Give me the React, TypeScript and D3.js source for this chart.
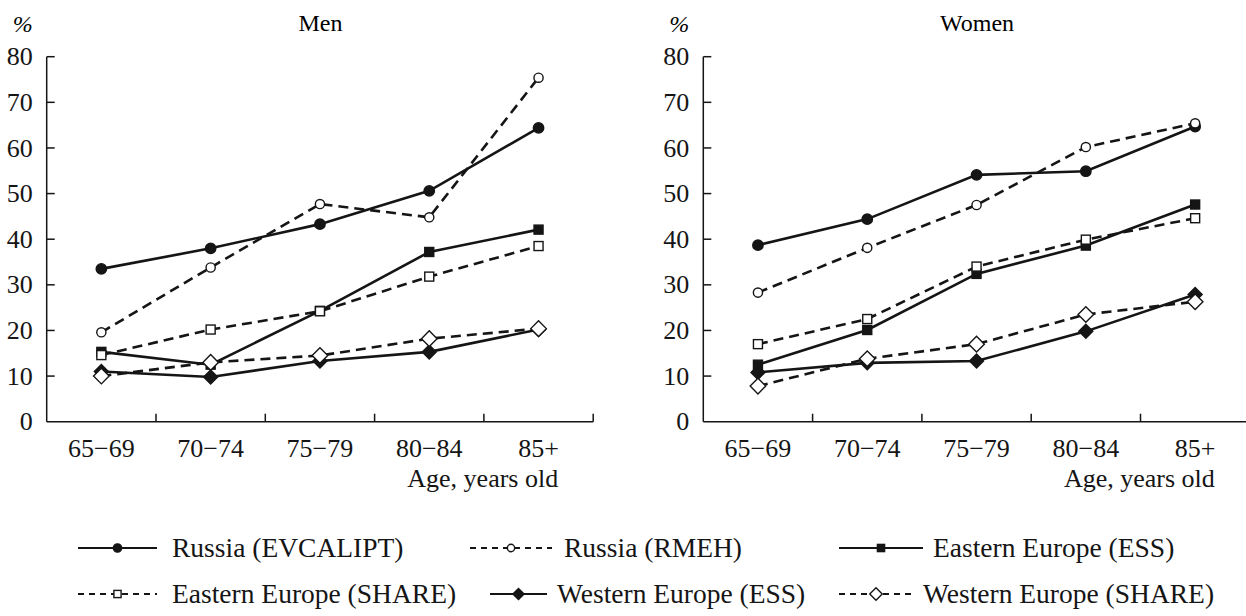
import * as d3 from 'd3'

// age groups and y ticks
const categories = ['65−69', '70−74', '75−79', '80−84', '85+']
const yTicks = [0, 10, 20, 30, 40, 50, 60, 70, 80]

// Men, %
const menRussiaEvcalipt = [33.5, 38.0, 43.3, 50.6, 64.4]
const menRussiaRmeh = [19.6, 33.8, 47.7, 44.8, 75.4]
const menEastEss = [15.3, 12.5, 24.3, 37.2, 42.1]
const menEastShare = [14.6, 20.2, 24.2, 31.8, 38.5]
const menWestEss = [11.0, 9.8, 13.3, 15.3, 20.2]
const menWestShare = [10.0, 13.0, 14.5, 18.2, 20.4]

// Women, %
const womenRussiaEvcalipt = [38.7, 44.4, 54.1, 54.9, 64.7]
const womenRussiaRmeh = [28.3, 38.1, 47.5, 60.2, 65.4]
const womenEastEss = [12.5, 20.1, 32.4, 38.6, 47.6]
const womenEastShare = [17.0, 22.5, 34.0, 39.9, 44.6]
const womenWestEss = [10.8, 12.9, 13.3, 19.8, 27.9]
const womenWestShare = [7.8, 13.8, 17.0, 23.5, 26.3]

const seriesNames = [
  'Russia (EVCALIPT)',
  'Russia (RMEH)',
  'Eastern Europe (ESS)',
  'Eastern Europe (SHARE)',
  'Western Europe (ESS)',
  'Western Europe (SHARE)',
]
const seriesMarkers = ['circle', 'circle', 'square', 'square', 'diamond', 'diamond']
const seriesFilled = [true, false, true, false, true, false]
const seriesDashed = [false, true, false, true, false, true]

const panels = [
  {
    title: 'Men',
    left: 46.7,
    values: [menRussiaEvcalipt, menRussiaRmeh, menEastEss, menEastShare, menWestEss, menWestShare],
  },
  {
    title: 'Women',
    left: 703.3,
    values: [womenRussiaEvcalipt, womenRussiaRmeh, womenEastEss, womenEastShare, womenWestEss, womenWestShare],
  },
]

// legend layout (sample start, sample end, text x, row)
const legendLayout = [
  { x0: 78, x1: 157, tx: 172, row: 0 },
  { x0: 470, x1: 552, tx: 564, row: 0 },
  { x0: 839, x1: 923, tx: 933, row: 0 },
  { x0: 78, x1: 157, tx: 172, row: 1 },
  { x0: 490, x1: 547, tx: 557, row: 1 },
  { x0: 839, x1: 913, tx: 923, row: 1 },
]

const FONT = 'Liberation Serif'
const INK = '#151515'
const plotW = 546.5
const y = d3.scaleLinear().domain([0, 80]).range([421.7, 56.7])

function Marker({ kind, filled, cx, cy, s = 1 }) {
  const fill = filled ? INK : '#fff'
  if (kind === 'circle') {
    return <circle cx={cx} cy={cy} r={(filled ? 5.2 : 4.6) * s} fill={fill} stroke={INK} strokeWidth={1.4} />
  }
  if (kind === 'square') {
    const h = 4.5 * s
    return <rect x={cx - h} y={cy - h} width={2 * h} height={2 * h} fill={fill} stroke={INK} strokeWidth={1.4} />
  }
  const h = (filled ? 7 : 7.8) * s
  const sym = d3.line()([[cx, cy - h], [cx + h, cy], [cx, cy + h], [cx - h, cy]]) + 'Z'
  return <path d={sym} fill={fill} stroke={INK} strokeWidth={1.4} />
}

function Panel({ p }) {
  const x = d3.scaleBand().domain(categories).range([p.left, p.left + plotW]).padding(0)
  const cx = (c) => x(c) + x.bandwidth() / 2
  const line = d3.line().x((d, i) => cx(categories[i])).y((d) => y(d))
  const bottom = y(0)
  return (
    <g>
      <text x={p.left - 34} y={32} fontSize={24} fontStyle="italic">%</text>
      <text x={p.left + plotW / 2 + 0.5} y={31} fontSize={24} textAnchor="middle">{p.title}</text>
      {/* y axis */}
      <line x1={p.left} x2={p.left} y1={y(80)} y2={bottom} stroke={INK} strokeWidth={1.5} />
      {yTicks.map((t) => (
        <g key={t}>
          {t > 0 && <line x1={p.left} x2={p.left + 8} y1={y(t)} y2={y(t)} stroke={INK} strokeWidth={1.5} />}
          <text x={p.left - 14} y={y(t)} dy="0.33em" fontSize={26} textAnchor="end" fill={INK}>{t}</text>
        </g>
      ))}
      {/* x axis */}
      <line x1={p.left} x2={p.left + plotW} y1={bottom} y2={bottom} stroke={INK} strokeWidth={1.5} />
      {categories.map((c) => (
        <g key={c}>
          <line x1={x(c) + x.bandwidth()} x2={x(c) + x.bandwidth()} y1={bottom} y2={bottom - 8} stroke={INK} strokeWidth={1.5} />
          <text x={cx(c)} y={457} fontSize={26} textAnchor="middle" fill={INK}>{c}</text>
        </g>
      ))}
      <text x={p.left + 511.5} y={487} fontSize={26} textAnchor="end" fill={INK}>Age, years old</text>
      {p.values.map((vals, si) => (
        <g key={si}>
          <path d={line(vals)} fill="none" stroke={INK} strokeWidth={2.6}
            strokeDasharray={seriesDashed[si] ? '10,6' : null} />
          {vals.map((v, i) => (
            <Marker key={i} kind={seriesMarkers[si]} filled={seriesFilled[si]} cx={cx(categories[i])} cy={y(v)} />
          ))}
        </g>
      ))}
    </g>
  )
}

export default function App() {
  const rowY = [548, 594]
  return (
    <svg width={1246} height={616} fontFamily={FONT}
      style={{ position: 'absolute', left: 0, top: 0, background: '#fff', fontFamily: FONT }}>
      <rect width={1246} height={616} fill="#fff" />
      {panels.map((p) => <Panel key={p.title} p={p} />)}
      {seriesNames.map((name, i) => {
        const l = legendLayout[i]
        const ly = rowY[l.row]
        return (
          <g key={name}>
            <line x1={l.x0} x2={l.x1} y1={ly} y2={ly} stroke={INK} strokeWidth={2}
              strokeDasharray={seriesDashed[i] ? '6,5' : null} />
            <Marker kind={seriesMarkers[i]} filled={seriesFilled[i]} cx={(l.x0 + l.x1) / 2} cy={ly} s={0.8} />
            <text x={l.tx} y={ly + 9} fontSize={27.5} fill={INK}>{name}</text>
          </g>
        )
      })}
    </svg>
  )
}
